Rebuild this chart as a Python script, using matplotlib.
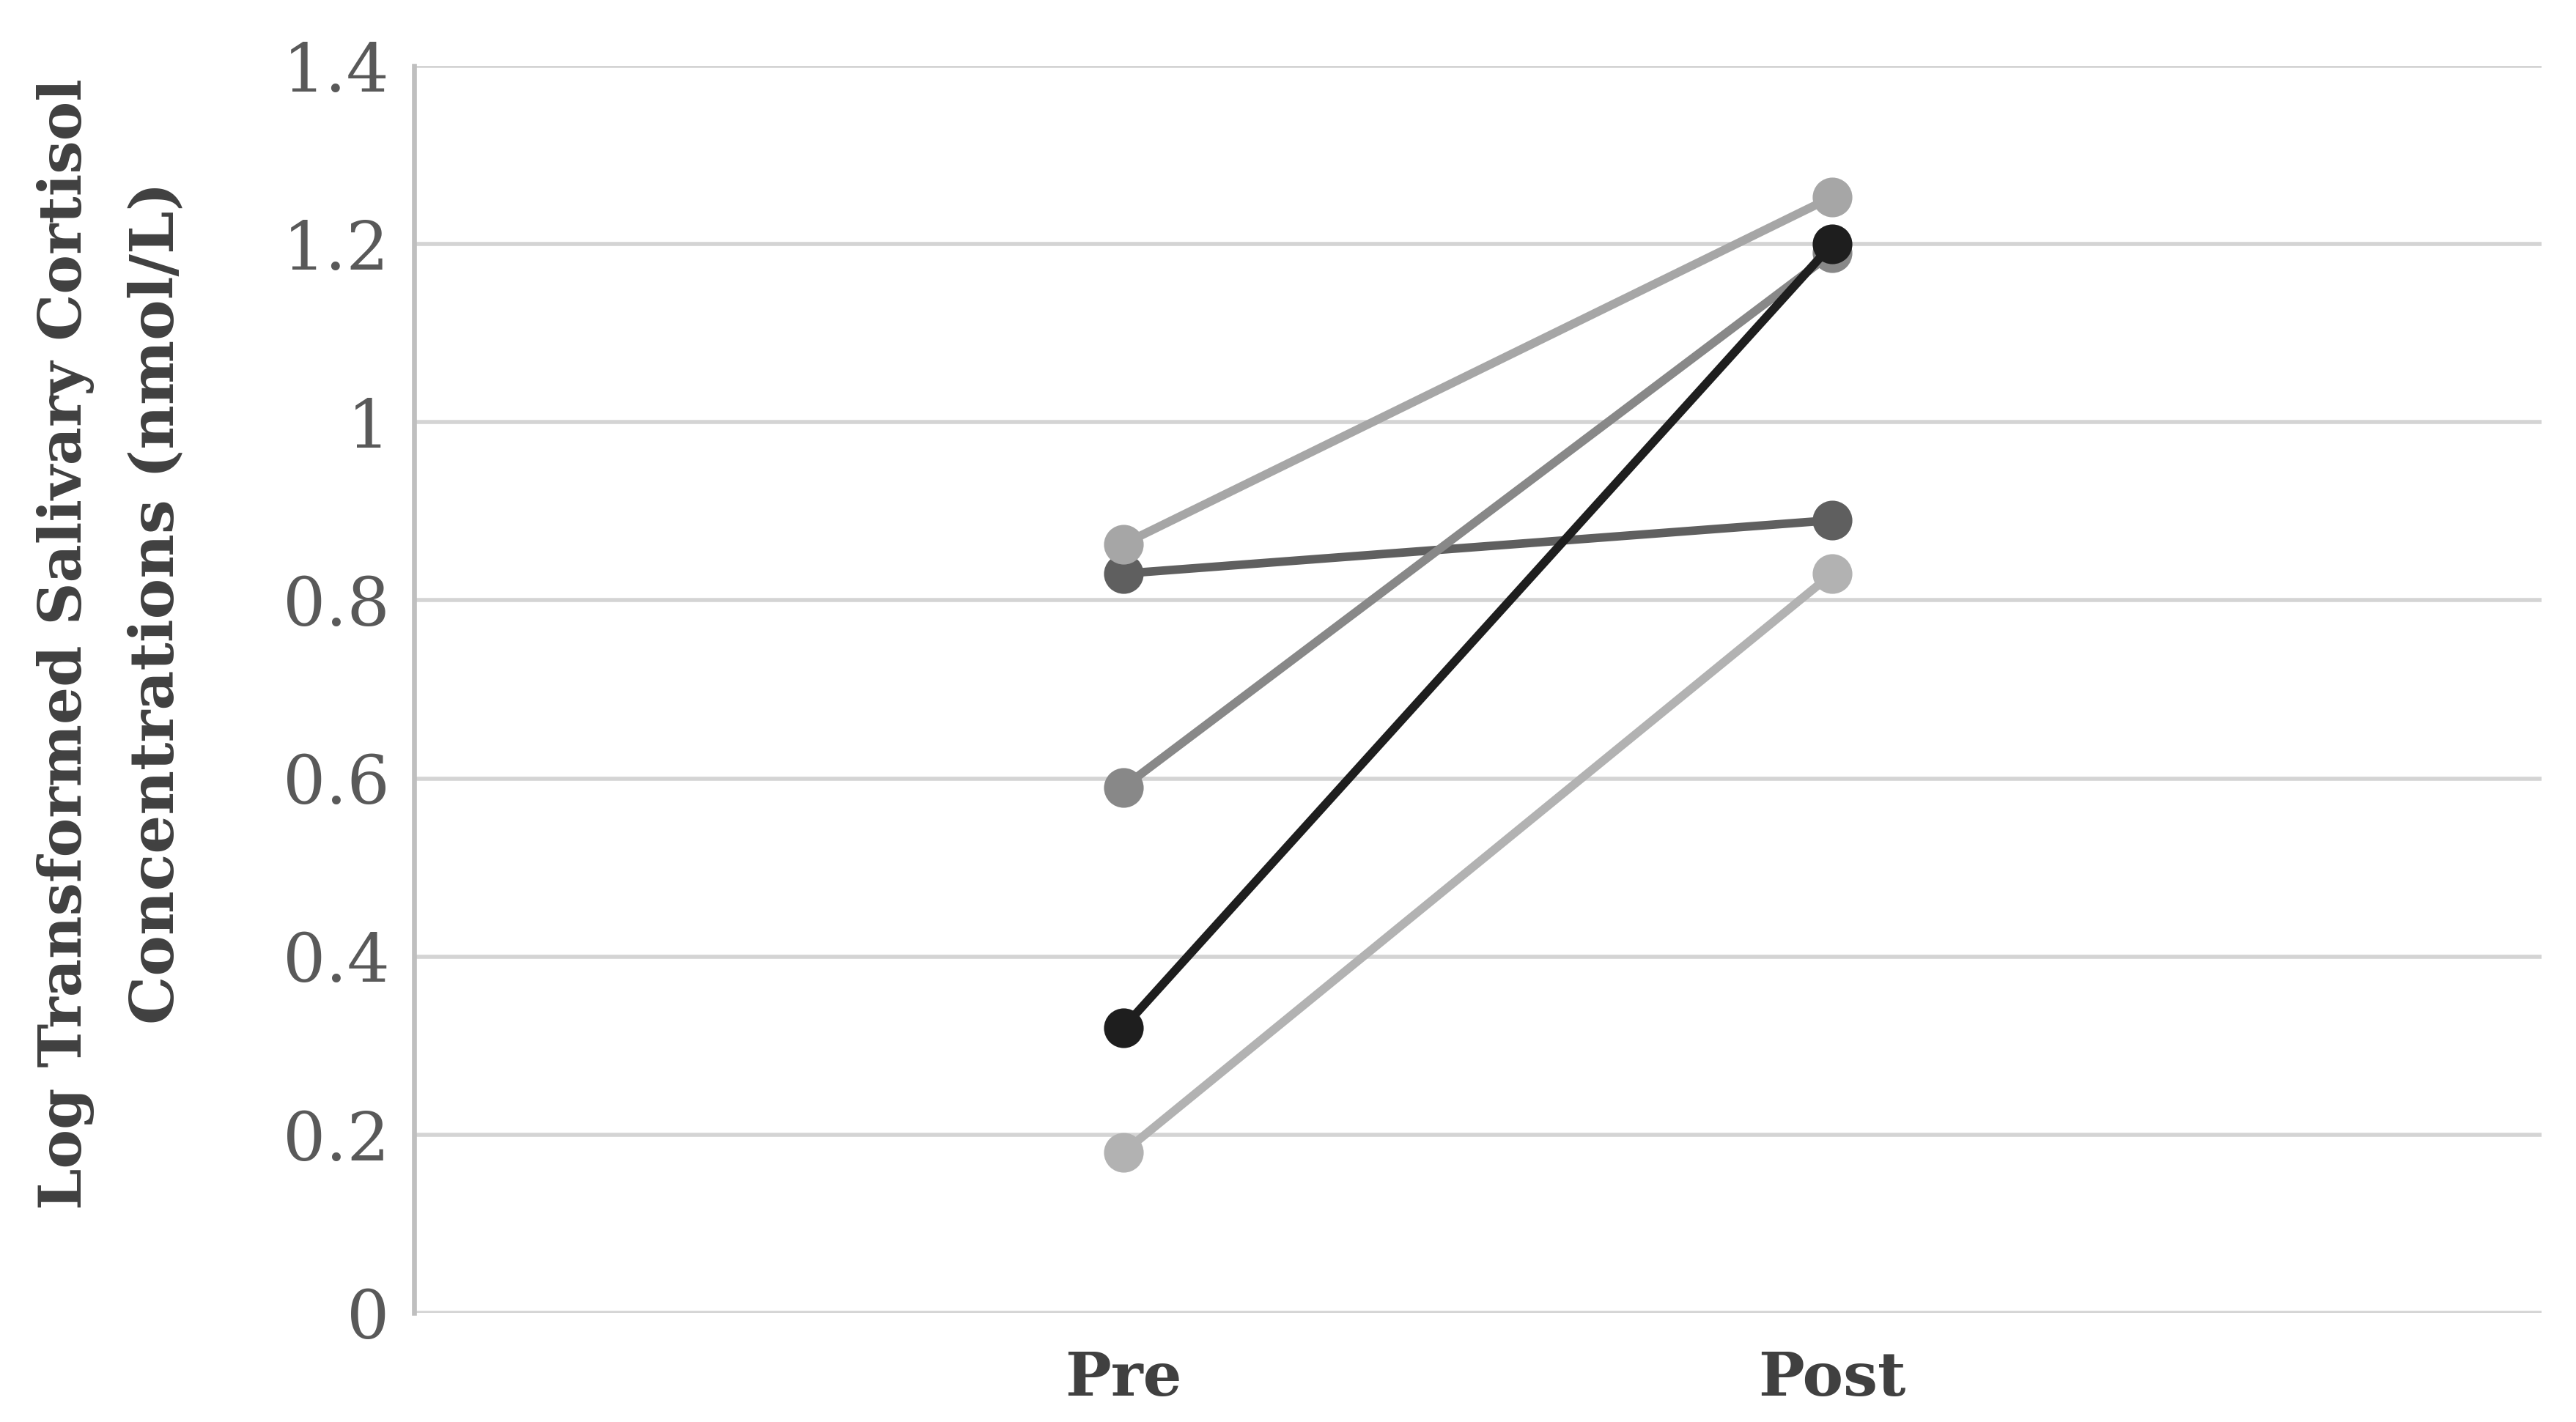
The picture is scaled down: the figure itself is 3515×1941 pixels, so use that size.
import matplotlib
matplotlib.use("Agg")
import matplotlib.pyplot as plt

categories = ["Pre", "Post"]
series_pre = [0.83, 0.863, 0.59, 0.18, 0.32]
series_post = [0.89, 1.253, 1.19, 0.83, 1.20]
series_colors = ["#5f5f5f", "#a6a6a6", "#888888", "#b2b2b2", "#1e1e1e"]
yticks = [0, 0.2, 0.4, 0.6, 0.8, 1.0, 1.2, 1.4]
ytick_labels = ["0", "0.2", "0.4", "0.6", "0.8", "1", "1.2", "1.4"]

DPI = 200
fig = plt.figure(figsize=(3516 / DPI, 1941 / DPI), dpi=DPI)
ax = fig.add_axes([0.1607, 0.0768, 0.8256, 0.8768])

x = list(range(len(categories)))
for pre, post, c in zip(series_pre, series_post, series_colors):
    ax.plot(x, [pre, post], color=c, lw=4.2, marker="o", ms=18.5,
            solid_capstyle="round", zorder=3)

ax.set_xlim(-1, 2)
ax.set_ylim(0, 1.4)
ax.set_yticks(yticks)
ax.set_yticklabels(ytick_labels)
ax.set_xticks(x)
ax.set_xticklabels(categories)
ax.yaxis.grid(True, color="#d4d4d4", lw=2.0, zorder=0)
ax.set_axisbelow(True)
for s in ["top", "right", "bottom"]:
    ax.spines[s].set_visible(False)
ax.spines["left"].set_color("#bfbfbf")
ax.spines["left"].set_linewidth(2.4)
ax.tick_params(axis="both", length=0)
ax.tick_params(axis="y", pad=12, labelsize=33, labelcolor="#595959")
ax.tick_params(axis="x", pad=18, labelsize=30, labelcolor="#404040")
for lab in ax.get_yticklabels():
    lab.set_family("DejaVu Serif")
for lab in ax.get_xticklabels():
    lab.set_family("DejaVu Serif")
    lab.set_fontweight("bold")

fig.text(90 / 3516, 1 - 879 / 1941, "Log Transformed Salivary Cortisol",
         rotation=90, ha="center", va="center", fontsize=29,
         family="DejaVu Serif", fontweight="bold", color="#404040")
fig.text(213 / 3516, 1 - 823 / 1941, "Concentrations (nmol/L)",
         rotation=90, ha="center", va="center", fontsize=30,
         family="DejaVu Serif", fontweight="bold", color="#404040")

fig.savefig("out.png", dpi=DPI, facecolor="white")
